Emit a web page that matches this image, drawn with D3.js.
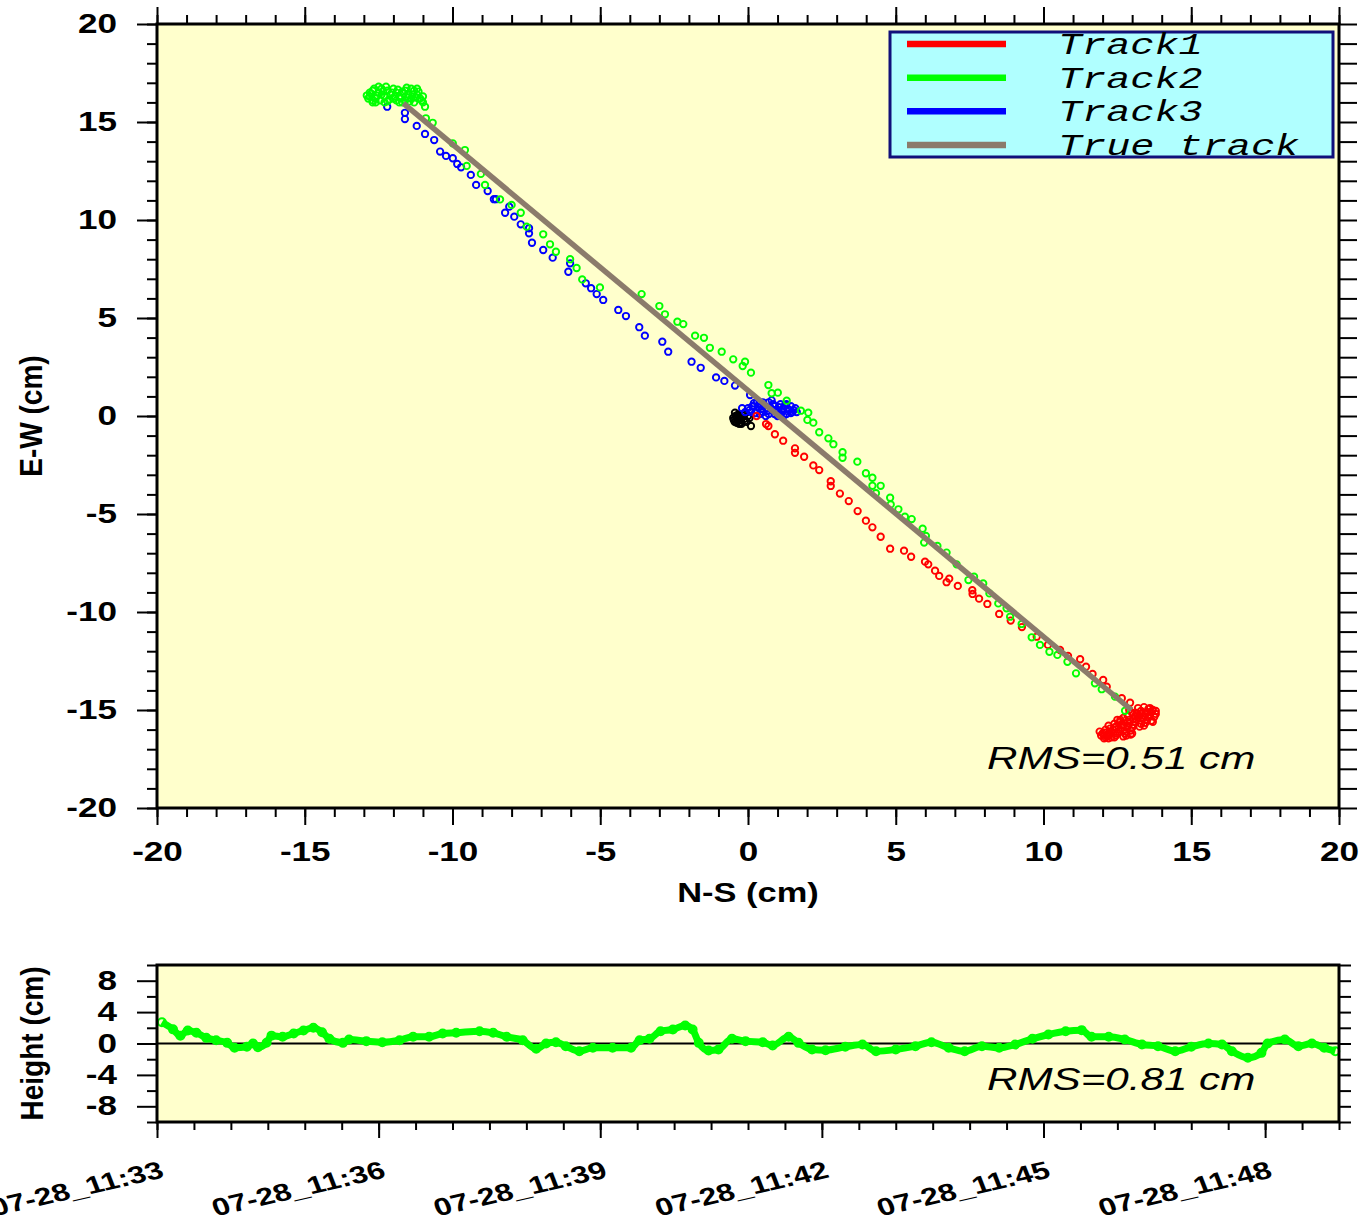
<!DOCTYPE html>
<html>
<head>
<meta charset="utf-8">
<title>Track plot</title>
<script src="https://d3js.org/d3.v7.min.js"></script>
<style>
  body {margin: 0; background: #fff;}
  svg {display: block;}
  .lbl {font-family: "Liberation Sans", Arial, sans-serif; font-weight: bold; fill: #000;}
  .tick line {stroke: #000; stroke-width: 2;}
  .rms {font-family: "Liberation Sans", Arial, sans-serif; font-style: italic; fill: #000;}
  .leg {font-family: "Liberation Mono", "Courier New", monospace; font-style: italic; fill: #000;}
</style>
</head>
<body>
<svg id="chart" width="1361" height="1216"></svg>
<script>
// ---- data (cm) ----
var startPts = [[-0.5,-0.1],[-0.45,-0.3],[-0.44,0.17],[-0.4,-0.05],[-0.35,-0.2],[-0.3,0.0],[-0.27,-0.03],
  [-0.25,-0.35],[-0.2,-0.1],[-0.15,0.1],[-0.1,-0.25],[0.05,-0.1],[0.1,-0.51],[-0.3,-0.4],
  [-0.48,-0.2],[-0.42,0.0],[-0.38,-0.35],[-0.33,0.08],[-0.28,-0.22],[-0.22,-0.4],[-0.18,0.02],
  [-0.12,-0.15],[-0.05,-0.3],[0.0,0.0]];

var track3 = [[-12.21,15.78],[-11.61,15.47],[-11.61,15.15],[-11.21,14.80],[-10.93,14.39],[-10.62,14.08],
  [-10.42,13.49],[-10.22,13.27],[-9.99,13.15],[-9.84,12.86],[-9.71,12.69],[-9.38,12.30],[-9.20,11.79],
  [-8.81,11.48],[-8.60,11.06],[-8.53,11.06],[-8.08,10.68],[-8.22,10.37],[-7.91,10.17],[-7.69,9.78],
  [-7.41,9.58],[-7.41,9.32],[-7.31,8.84],[-6.93,8.47],[-6.61,8.08],[-6.02,7.79],[-6.08,7.36],[-5.49,6.77],
  [-5.31,6.52],[-5.12,6.22],[-4.90,5.92],[-4.39,5.41],[-4.13,5.10],[-3.68,4.53],[-3.49,4.10],[-2.90,3.79],
  [-2.70,3.28],[-1.91,2.77],[-1.60,2.46],[-1.08,1.97],[-0.80,1.79],[-0.44,1.55],[0.07,1.07],
  [0.0,0.4],[0.1,0.2],[0.2,0.5],[0.3,0.3],[0.4,0.6],[0.5,0.2],[0.6,0.4],[0.7,0.7],[0.8,0.3],[0.9,0.5],
  [1.0,0.2],[1.1,0.6],[1.2,0.4],[1.3,0.1],[1.4,0.3],[1.5,0.2],[1.6,0.4],[1.2,0.0],[0.9,0.1],[0.6,0.0],
  [-0.1,0.2],[-0.2,0.4],[0.3,0.7],[0.8,0.8],[1.0,0.0],[1.45,0.5],
  [0.05,0.3],[0.15,0.5],[0.25,0.15],[0.35,0.45],[0.45,0.35],[0.55,0.55],[0.65,0.25],[0.75,0.45],
  [0.85,0.6],[0.95,0.3],[1.05,0.45],[1.15,0.2],[1.25,0.55],[1.35,0.35],[1.45,0.15],[1.55,0.3],[1.65,0.2],
  [0.4,0.1],[0.7,0.1],[1.1,0.05],[0.2,0.65],[0.5,0.7],[1.3,0.6]];

var track1 = [[0.29,0.0],[0.61,-0.41],[0.69,-0.51],[0.91,-0.93],[1.19,-1.26],[1.59,-1.65],[1.59,-1.88],
  [1.90,-2.08],[2.21,-2.52],[2.41,-2.76],[2.80,-3.33],[2.80,-3.57],[3.11,-3.96],[3.41,-4.34],[3.71,-4.85],
  [3.99,-5.34],[4.21,-5.68],[4.49,-6.16],[4.81,-6.77],[5.28,-6.87],[5.52,-7.18],[5.99,-7.43],[6.10,-7.57],
  [6.33,-7.89],[6.47,-8.16],[6.72,-8.48],[6.81,-8.30],[7.10,-8.67],[7.59,-8.89],[7.60,-9.08],[7.82,-9.32],
  [8.10,-9.59],[8.50,-10.10],[8.89,-10.44],[9.27,-10.77],[9.77,-11.26],[10.15,-11.68],[10.56,-11.94],
  [10.83,-12.24],[11.24,-12.41],[11.44,-12.79],[11.66,-13.16],[12.02,-13.47],[12.14,-13.81],[12.65,-14.40],
  [12.93,-14.63],
  [12.0,-16.2],[12.1,-16.0],[12.2,-16.3],[12.3,-16.1],[12.4,-15.9],[12.5,-16.2],[12.6,-16.0],[12.7,-15.8],
  [12.8,-16.1],[12.9,-15.7],[13.0,-15.9],[13.1,-15.6],[13.2,-15.4],[13.3,-15.7],[13.4,-15.3],[13.5,-15.1],
  [13.6,-15.3],[13.7,-15.0],[13.5,-15.5],[13.3,-15.2],[13.1,-15.3],[12.9,-15.5],[12.7,-15.4],[12.6,-15.6],
  [12.4,-15.7],[12.2,-15.8],[12.9,-15.0],[13.2,-14.9],[13.6,-14.9],[13.8,-15.2],[12.3,-16.4],[12.8,-16.3],
  [13.0,-16.2],[12.1,-16.4],[13.4,-15.8],[13.7,-15.6],[12.5,-15.5],[11.9,-16.1],
  [11.95,-16.3],[12.05,-16.15],[12.15,-16.35],[12.25,-16.2],[12.35,-16.0],[12.45,-16.3],[12.55,-16.1],
  [12.65,-15.9],[12.75,-16.2],[12.85,-15.85],[12.95,-16.05],[13.05,-15.75],[13.15,-15.5],[13.25,-15.85],
  [13.35,-15.45],[13.45,-15.2],[13.55,-15.4],[13.65,-15.1],[13.75,-15.35],[13.45,-15.65],[13.25,-15.3],
  [13.05,-15.45],[12.85,-15.6],[12.65,-15.75],[12.45,-15.85],[12.25,-15.95],[13.0,-15.15],[13.3,-15.05],
  [13.55,-14.95],[13.8,-15.05],[12.4,-16.4],[12.7,-16.35],[12.95,-16.25],[12.6,-15.5],[12.85,-15.3],
  [13.15,-15.15],[13.4,-14.85],[13.65,-15.55],[12.2,-16.45],[12.05,-16.45]];

var track2 = [[12.76,-15.04],[12.42,-14.32],[11.97,-13.94],[11.74,-13.64],[11.10,-13.13],[10.81,-12.54],
  [10.47,-12.19],[10.20,-12.03],[9.88,-11.68],[9.60,-11.29],[9.26,-10.61],[8.87,-10.24],[8.75,-9.81],
  [8.47,-9.56],[8.17,-9.05],[7.96,-8.54],[7.65,-8.20],[7.46,-8.37],[7.06,-7.57],[6.72,-6.97],[6.41,-6.63],
  [5.96,-6.46],[6.02,-6.12],[5.91,-5.75],[5.54,-5.26],[5.31,-5.14],[5.09,-4.76],[4.83,-4.51],[4.81,-4.17],
  [4.33,-3.94],[4.49,-3.56],[4.21,-3.56],[4.21,-3.15],[3.99,-2.92],[3.70,-2.33],[3.20,-2.13],[3.20,-1.85],
  [2.89,-1.44],[2.72,-1.14],[2.41,-0.83],[2.21,-0.34],[2.01,-0.20],[2.04,0.17],[1.79,0.27],[1.31,0.78],
  [1.01,1.19],[0.80,1.16],[0.69,1.58],[0.10,2.21],[-0.18,2.55],[-0.10,2.77],[-0.50,2.89],[-0.89,3.28],
  [-1.29,3.48],[-1.49,3.99],[-1.79,4.10],[-2.19,4.69],[-2.39,4.81],[-2.81,5.19],[-3.00,5.61],[-3.60,6.22],
  [-5.01,6.56],[-5.61,6.97],[-5.80,7.55],[-6.02,8.00],[-6.50,8.38],[-6.70,8.76],[-6.93,9.27],[-7.49,9.66],
  [-7.69,10.37],[-8.00,10.77],[-8.39,11.05],[-8.90,11.79],[-9.04,12.35],[-9.52,12.76],[-9.58,13.57],
  [-9.99,13.91],[-10.67,14.96],[-10.90,15.19],[-10.93,15.78],
  [-12.8,16.3],[-12.7,16.6],[-12.6,16.2],[-12.5,16.5],[-12.4,16.7],[-12.3,16.3],[-12.2,16.6],[-12.1,16.4],
  [-12.0,16.2],[-12.3,16.0],[-12.6,16.0],[-12.8,16.5],[-11.9,16.5],[-11.8,16.3],[-11.6,16.6],[-11.5,16.4],
  [-11.4,16.2],[-11.3,16.6],[-11.2,16.4],[-11.1,16.2],[-11.6,16.1],[-11.4,16.7],[-11.7,16.0],[-12.0,16.7],
  [-12.5,16.8],[-11.0,16.3],[-12.7,16.1],[-11.3,16.0],[-11.9,16.1],
  [-12.85,16.2],[-12.75,16.45],[-12.65,16.7],[-12.55,16.35],[-12.45,16.1],[-12.35,16.55],[-12.25,16.8],
  [-12.15,16.15],[-12.05,16.5],[-11.95,16.3],[-11.85,16.65],[-11.75,16.2],[-11.65,16.45],[-11.55,16.75],
  [-11.45,16.05],[-11.35,16.4],[-11.25,16.25],[-11.15,16.55],[-11.05,16.1],[-12.7,16.0],[-12.2,16.05],
  [-11.8,16.0],[-11.5,16.25],[-12.9,16.35],[-12.4,16.4],[-11.7,16.55],[-11.2,16.7],[-11.0,16.0]];

var trueTrack = [[-11.66,15.95],[12.98,-15.0]];

var legendLabels = ["Track1", "Track2", "Track3", "True track"];
var legendColors = ["#ff0000", "#00ff00", "#0000ff", "#8b7b6b"];

var xTicks = [-20,-15,-10,-5,0,5,10,15,20];
var yTicks = [-20,-15,-10,-5,0,5,10,15,20];
var hTicks = [-8,-4,0,4,8];

// height series: seconds after 11:33:00, height (cm)
var hSec = [4,13,19,25,32,40,48,57,63,73,78,82,89,93,102,111,119,127,134,140,151,156,170,183,197,208,221,
  232,243,262,273,284,297,308,316,324,332,343,354,370,385,392,400,409,419,429,435,440,448,456,467,478,492,
  500,513,521,532,543,559,573,584,600,616,629,643,656,670,684,697,711,724,738,751,759,773,786,800,813,827,
  840,854,865,873,886,897,902,916,927,938,948,957];
var hVal = [2.7,1.8,1.0,1.66,1.36,0.72,0.42,0.08,-0.55,-0.42,0.0,-0.47,0.1,1.0,0.85,1.27,1.66,2.0,1.44,0.6,
  0.08,0.5,0.3,0.17,0.42,0.85,0.85,1.27,1.36,1.57,1.36,0.85,0.42,-0.68,0.0,0.17,-0.34,-0.98,-0.55,-0.55,
  -0.55,0.42,0.6,1.57,1.78,2.29,1.78,0.08,-0.89,-0.76,0.6,0.3,0.17,-0.25,0.85,0.08,-0.76,-0.85,-0.42,-0.13,
  -0.98,-0.76,-0.34,0.17,-0.55,-0.98,-0.34,-0.55,-0.13,0.6,1.15,1.57,1.7,0.85,0.85,0.51,-0.13,-0.34,-0.98,
  -0.42,0.0,-0.13,-0.98,-1.82,-1.19,0.0,0.51,-0.34,0.0,-0.55,-0.98];

var t0 = new Date(2020, 6, 28, 11, 33, 0);
var t1 = new Date(2020, 6, 28, 11, 49, 0);

var svg = d3.select("#chart");
var SX = 1.3;  // horizontal text stretch of the original raster
var plain = function(d){ return String(d); };

// ================= main panel =================
var x = d3.scaleLinear().domain([-20, 20]).range([157, 1339]);
var y = d3.scaleLinear().domain([-20, 20]).range([808, 24]);
var minor40 = d3.range(-20, 21, 1);

svg.append("rect").attr("x", 157).attr("y", 24).attr("width", 1182).attr("height", 784)
  .attr("fill", "#ffffcc");

function tickAxis(gen, tx, ty) {
  var g = svg.append("g").attr("transform", "translate(" + tx + "," + ty + ")").call(gen);
  g.select(".domain").remove();
  return g;
}

// minor ticks all sides
tickAxis(d3.axisLeft(y).tickValues(minor40).tickSize(10).tickFormat(""), 157, 0);
tickAxis(d3.axisBottom(x).tickValues(minor40).tickSize(9).tickFormat(""), 0, 808);
tickAxis(d3.axisTop(x).tickValues(minor40).tickSize(9).tickFormat(""), 0, 24);
tickAxis(d3.axisRight(y).tickValues(minor40).tickSize(18).tickFormat(""), 1339, 0);
tickAxis(d3.axisTop(x).tickValues(xTicks).tickSize(17).tickFormat(""), 0, 24);

var gl = tickAxis(d3.axisLeft(y).tickValues(yTicks).tickSize(20).tickPadding(20).tickFormat(plain), 157, 0);
gl.selectAll("text").attr("class", "lbl").attr("font-size", 27).attr("font-family", null)
  .attr("x", -40 / SX).attr("transform", "scale(" + SX + ",1)");

var gb = tickAxis(d3.axisBottom(x).tickValues(xTicks).tickSize(17).tickPadding(17).tickFormat(plain), 0, 808);
gb.selectAll("text").attr("class", "lbl").attr("font-size", 27).attr("font-family", null)
  .attr("transform", "scale(" + SX + ",1)");

svg.append("text").attr("class", "lbl").attr("font-size", 28).attr("text-anchor", "middle")
  .attr("transform", "translate(" + x(0) + ",902) scale(1.23,1)").text("N-S (cm)");
svg.append("text").attr("class", "lbl").attr("font-size", 28).attr("text-anchor", "middle")
  .attr("transform", "translate(42," + y(0) + ") scale(1.1,1) rotate(-90)").text("E-W (cm)");

// points
var plot = svg.append("g");
function drawPts(data, color) {
  plot.append("g").selectAll("circle").data(data).enter().append("circle")
    .attr("cx", function(d){return x(d[0]);})
    .attr("cy", function(d){return y(d[1]);})
    .attr("r", 3.2)
    .attr("fill", "none")
    .attr("stroke", color)
    .attr("stroke-width", 1.9);
}
drawPts(startPts, "#000000");
drawPts(track3, legendColors[2]);
drawPts(track1, legendColors[0]);
drawPts(track2, legendColors[1]);

plot.append("path").datum(trueTrack)
  .attr("d", d3.line().x(function(d){return x(d[0]);}).y(function(d){return y(d[1]);}))
  .attr("stroke", legendColors[3]).attr("stroke-width", 5.5).attr("fill", "none");

svg.append("rect").attr("x", 157).attr("y", 24).attr("width", 1182).attr("height", 784)
  .attr("fill", "none").attr("stroke", "#000").attr("stroke-width", 3);

// legend
var leg = svg.append("g");
leg.append("rect").attr("x", 890).attr("y", 32).attr("width", 443).attr("height", 125)
  .attr("fill", "#b0ffff").attr("stroke", "#10107a").attr("stroke-width", 3);
var rowY = d3.scalePoint().domain(legendLabels).range([44, 145]);
legendLabels.forEach(function(lab, i) {
  leg.append("line").attr("x1", 907).attr("x2", 1006).attr("y1", rowY(lab)).attr("y2", rowY(lab))
    .attr("stroke", legendColors[i]).attr("stroke-width", 6.5);
  leg.append("text").attr("class", "leg").attr("font-size", 30)
    .attr("transform", "translate(1058," + (rowY(lab) + 10) + ") scale(1.34,1)").text(lab);
});

svg.append("text").attr("class", "rms").attr("font-size", 31)
  .attr("transform", "translate(987,769) scale(1.36,1)").text("RMS=0.51 cm");

// ================= height panel =================
var hx = d3.scaleTime().domain([t0, t1]).range([157, 1339]);
var hy = d3.scaleLinear().domain([-10, 10]).range([1122, 965]);
var hData = hSec.map(function(s, i){ return [new Date(t0.getTime() + s * 1000), hVal[i]]; });

svg.append("rect").attr("x", 157).attr("y", 965).attr("width", 1182).attr("height", 157)
  .attr("fill", "#ffffcc");

tickAxis(d3.axisLeft(hy).tickValues([-10,-6,-2,2,6,10]).tickSize(10).tickFormat(""), 157, 0);
tickAxis(d3.axisRight(hy).tickValues(d3.range(-10, 11, 2)).tickSize(12).tickFormat(""), 1339, 0);
tickAxis(d3.axisBottom(hx).ticks(d3.timeSecond.every(30)).tickSize(8).tickFormat(""), 0, 1122);

var ghl = tickAxis(d3.axisLeft(hy).tickValues(hTicks).tickSize(20).tickPadding(20).tickFormat(plain), 157, 0);
ghl.selectAll("text").attr("class", "lbl").attr("font-size", 27).attr("font-family", null)
  .attr("x", -40 / SX).attr("transform", "scale(" + SX + ",1)");

var ghb = tickAxis(d3.axisBottom(hx).ticks(d3.timeMinute.every(3)).tickSize(16)
  .tickFormat(d3.timeFormat("%m-%d_%H:%M")), 0, 1122);
ghb.selectAll("text").attr("class", "lbl").attr("font-size", 24.5).attr("font-family", null)
  .attr("x", 0).attr("y", 0).attr("dy", null).attr("text-anchor", "end")
  .attr("transform", "translate(8,55) scale(" + SX + ",1) rotate(-16.7)");

svg.append("text").attr("class", "lbl").attr("font-size", 28).attr("text-anchor", "middle")
  .attr("transform", "translate(43," + hy(0) + ") scale(1.1,1) rotate(-90)").text("Height (cm)");

svg.append("line").attr("x1", 157).attr("x2", 1339).attr("y1", hy(0)).attr("y2", hy(0))
  .attr("stroke", "#000").attr("stroke-width", 2);

svg.append("path").datum(hData)
  .attr("d", d3.line().curve(d3.curveMonotoneX).x(function(d){return hx(d[0]);}).y(function(d){return hy(d[1]);}))
  .attr("stroke", "#00ff00").attr("stroke-width", 7).attr("fill", "none").attr("stroke-linejoin", "round");
svg.append("g").selectAll("circle").data(hData).enter().append("circle")
  .attr("cx", function(d){return hx(d[0]);})
  .attr("cy", function(d){return hy(d[1]);})
  .attr("r", 4).attr("fill", "none").attr("stroke", "#00ff00").attr("stroke-width", 2);

svg.append("text").attr("class", "rms").attr("font-size", 31)
  .attr("transform", "translate(987,1090) scale(1.36,1)").text("RMS=0.81 cm");

svg.append("rect").attr("x", 157).attr("y", 965).attr("width", 1182).attr("height", 157)
  .attr("fill", "none").attr("stroke", "#000").attr("stroke-width", 3);
</script>
</body>
</html>
